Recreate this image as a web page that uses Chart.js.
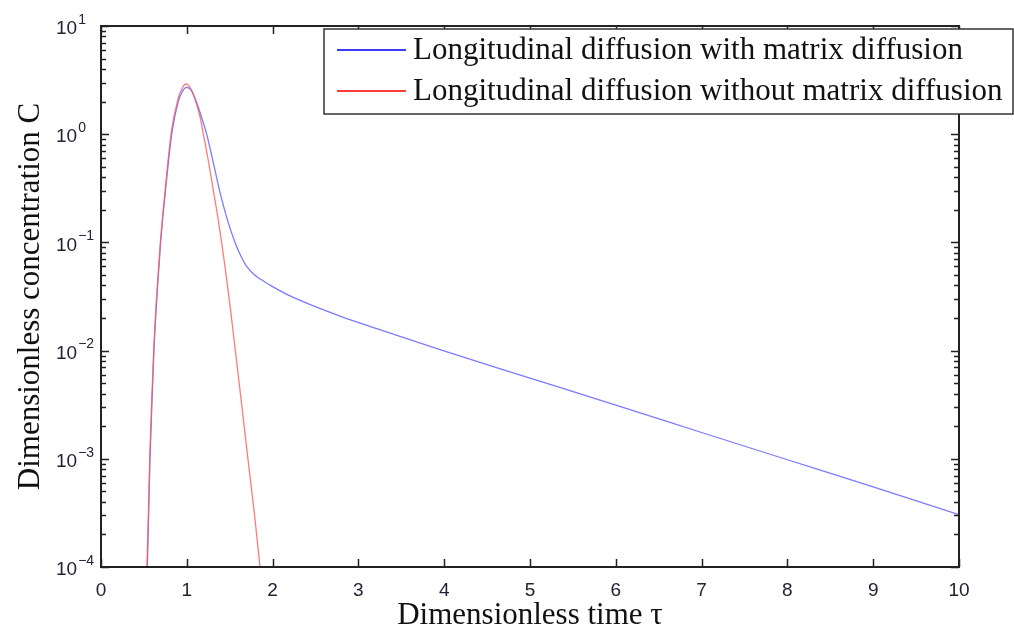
<!DOCTYPE html>
<html>
<head>
<meta charset="utf-8">
<script src="https://cdn.jsdelivr.net/npm/chart.js@4.4.1/dist/chart.umd.min.js"></script>
<style>
  html, body { margin: 0; padding: 0; background: #fff; }
  #chart { display: block; }
</style>
</head>
<body>
<canvas id="chart" width="1014" height="632"></canvas>
<script>
// data
const withMatrixTau = [0.54, 0.555, 0.571, 0.595, 0.618, 0.655, 0.695, 0.76, 0.824, 0.9, 0.95, 1.0, 1.05, 1.115, 1.17, 1.232, 1.31, 1.387, 1.47, 1.562, 1.63, 1.698, 1.79, 1.892, 2.0, 2.203, 2.786, 3.25, 3.951, 5, 6, 7, 8, 9, 10];
const withMatrixC = [1e-4, 3e-4, 1e-3, 3.5e-3, 0.0104, 0.035, 0.1, 0.35, 1.0, 2.0, 2.5, 2.71, 2.55, 1.96, 1.45, 1.0, 0.54, 0.29, 0.165, 0.1, 0.075, 0.06, 0.05, 0.044, 0.039, 0.032, 0.0208, 0.0156, 0.0102, 5.57e-3, 3.13e-3, 1.75e-3, 9.8e-4, 5.5e-4, 3.05e-4];

const withoutMatrixTau = [0.535, 0.552, 0.568, 0.592, 0.615, 0.652, 0.692, 0.757, 0.82, 0.9, 0.95, 0.99, 1.05, 1.1, 1.154, 1.193, 1.25, 1.31, 1.36, 1.406, 1.45, 1.5, 1.542, 1.581, 1.64, 1.717, 1.79, 1.853];
const withoutMatrixC = [1e-4, 3e-4, 1e-3, 3.5e-3, 0.0104, 0.035, 0.1, 0.36, 1.05, 2.15, 2.7, 2.91, 2.6, 2.05, 1.45, 1.0, 0.575, 0.3, 0.174, 0.1, 0.056, 0.0275, 0.0145, 0.0079, 0.00316, 9.3e-4, 3e-4, 1e-4];

const seriesLabels = ["Longitudinal diffusion with matrix diffusion", "Longitudinal diffusion without matrix diffusion"];
const seriesColors = ["#3c3cff", "#ff3c3c"];
const xTickValues = [0, 1, 2, 3, 4, 5, 6, 7, 8, 9, 10];
const yDecadeExps = [-4, -3, -2, -1, 0, 1];

const AXIS_COLOR = "#222";
const LABEL_COLOR = "#222233";

function toPoints(xs, ys) {
  return xs.map((x, i) => ({ x: x, y: ys[i] }));
}

// MATLAB style box with inward ticks, y labels with exponents, boxed legend
const matlabAxes = {
  id: "matlabAxes",
  afterDatasetsDraw(chart) {
    const ctx = chart.ctx;
    const area = chart.chartArea;
    const xs = chart.scales.x;
    const ys = chart.scales.y;
    ctx.save();
    ctx.strokeStyle = AXIS_COLOR;
    ctx.lineWidth = 2;
    ctx.strokeRect(area.left, area.top, area.right - area.left, area.bottom - area.top);

    ctx.lineWidth = 1.5;
    ctx.beginPath();
    xTickValues.forEach((v) => {
      const px = Math.round(xs.getPixelForValue(v)) + 0.5;
      ctx.moveTo(px, area.bottom);
      ctx.lineTo(px, area.bottom - 8);
      ctx.moveTo(px, area.top);
      ctx.lineTo(px, area.top + 8);
    });
    yDecadeExps.forEach((e) => {
      for (let m = 1; m <= 9; m++) {
        if (e === 1 && m > 1) break;
        const py = Math.round(ys.getPixelForValue(m * Math.pow(10, e))) + 0.5;
        const len = m === 1 ? 8 : 5;
        ctx.moveTo(area.left, py);
        ctx.lineTo(area.left + len, py);
        ctx.moveTo(area.right, py);
        ctx.lineTo(area.right - len, py);
      }
    });
    ctx.stroke();

    // y tick labels 10^e
    ctx.fillStyle = LABEL_COLOR;
    ctx.textAlign = "left";
    ctx.textBaseline = "middle";
    yDecadeExps.forEach((e) => {
      const py = ys.getPixelForValue(Math.pow(10, e));
      ctx.font = "19px 'Liberation Sans', Arial, sans-serif";
      ctx.fillText("10", 56, py + 3);
      const w = ctx.measureText("10").width;
      ctx.font = "14px 'Liberation Sans', Arial, sans-serif";
      ctx.fillText(e < 0 ? "\u2212" + Math.abs(e) : String(e), 56 + w + 1, py - 6);
    });

    // legend
    const lx = 324, ly = 29, lw = 689, lh = 85;
    ctx.fillStyle = "#fff";
    ctx.fillRect(lx, ly, lw, lh);
    ctx.strokeStyle = "#333";
    ctx.lineWidth = 1.5;
    ctx.strokeRect(lx, ly, lw, lh);
    ctx.font = "31px 'Liberation Serif', 'Times New Roman', serif";
    ctx.textBaseline = "middle";
    const rows = [50, 91];
    seriesLabels.forEach((label, i) => {
      ctx.strokeStyle = seriesColors[i];
      ctx.lineWidth = 2;
      ctx.beginPath();
      ctx.moveTo(337, rows[i]);
      ctx.lineTo(406, rows[i]);
      ctx.stroke();
      ctx.fillStyle = "#111";
      ctx.fillText(label, 413, rows[i] + 1);
    });
    ctx.restore();
  },
};

const canvas = document.getElementById("chart");
new Chart(canvas, {
  type: "line",
  data: {
    datasets: [
      {
        label: seriesLabels[0],
        data: toPoints(withMatrixTau, withMatrixC),
        borderColor: "rgba(90, 90, 255, 0.8)",
        borderWidth: 1.3,
        pointRadius: 0,
        cubicInterpolationMode: "monotone",
        order: 2,
      },
      {
        label: seriesLabels[1],
        data: toPoints(withoutMatrixTau, withoutMatrixC),
        borderColor: "rgba(255, 90, 90, 0.8)",
        borderWidth: 1.3,
        pointRadius: 0,
        cubicInterpolationMode: "monotone",
        order: 1,
      },
    ],
  },
  options: {
    responsive: false,
    animation: false,
    devicePixelRatio: 1,
    layout: { padding: { left: 0, top: 26, right: 55, bottom: 0 } },
    plugins: {
      legend: { display: false },
      tooltip: { enabled: false },
    },
    scales: {
      x: {
        type: "linear",
        min: 0,
        max: 10,
        afterBuildTicks: (scale) => {
          scale.ticks = xTickValues.map((v) => ({ value: v }));
        },
        ticks: {
          color: LABEL_COLOR,
          font: { family: "'Liberation Sans', Arial, sans-serif", size: 19 },
          padding: 12,
          maxRotation: 0,
        },
        grid: { display: false, drawTicks: false },
        border: { display: false },
        title: {
          display: true,
          text: "Dimensionless time \u03c4",
          color: "#111",
          font: { family: "'Liberation Serif', 'Times New Roman', serif", size: 31 },
          padding: { top: 0, bottom: -2 },
        },
        afterFit: (scale) => {
          scale.height = 65;
        },
      },
      y: {
        type: "logarithmic",
        min: 1e-4,
        max: 10,
        ticks: { display: false },
        grid: { display: false, drawTicks: false },
        border: { display: false },
        title: {
          display: true,
          text: "Dimensionless concentration C",
          color: "#111",
          font: { family: "'Liberation Serif', 'Times New Roman', serif", size: 31 },
          padding: { top: 12, bottom: 0 },
        },
        afterFit: (scale) => {
          scale.width = 101;
        },
      },
    },
  },
  plugins: [matlabAxes],
});
</script>
</body>
</html>
